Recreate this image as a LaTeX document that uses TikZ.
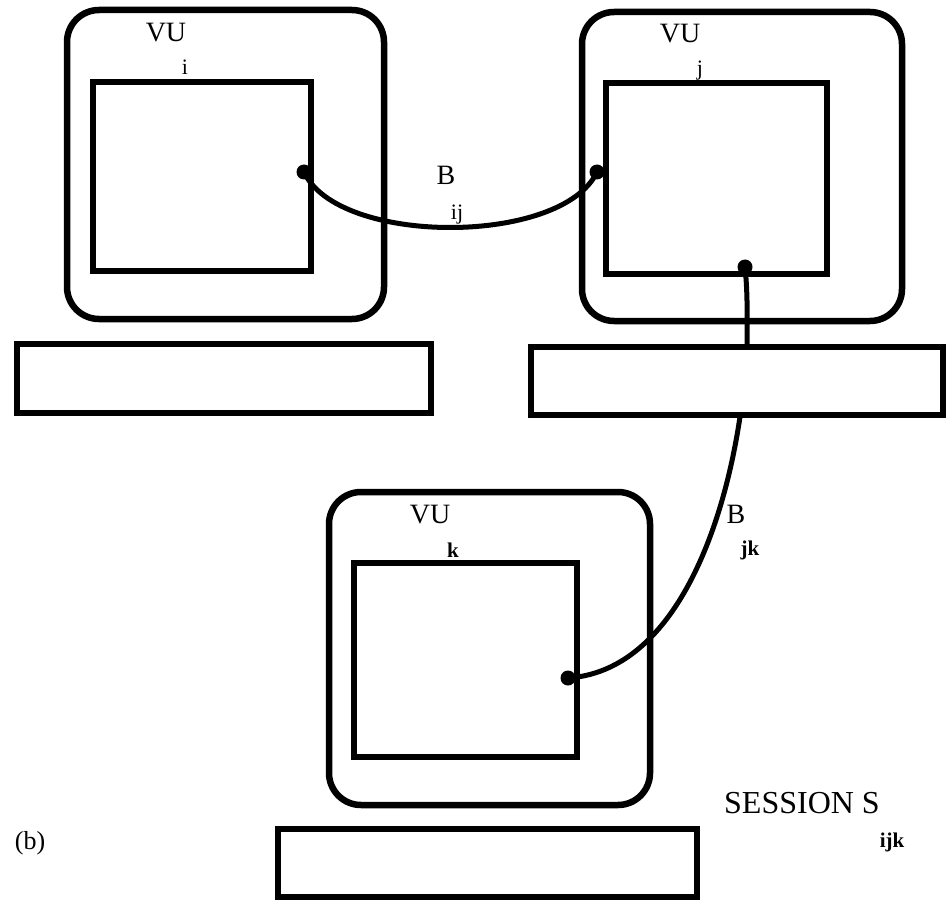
\documentclass[tikz,border=0pt]{standalone}
\usepackage{fontspec}
\setmainfont{Liberation Serif}
\begin{document}
\begin{tikzpicture}[x=1pt,y=-1pt,
  outerbox/.style={draw,line width=6.5pt,rounded corners=32pt,inner sep=0pt,outer sep=0pt},
  screenbox/.style={draw,line width=6pt,inner sep=0pt,outer sep=0pt},
  keybox/.style={draw,fill=white,line width=6pt,inner sep=0pt,outer sep=0pt},
  dotn/.style={circle,fill=black,minimum size=15pt,inner sep=0pt},
  conn/.style={line width=5pt,line cap=round},
  big/.style={inner sep=0pt,anchor=base,font=\fontsize{28}{30}\selectfont},
  sub/.style={inner sep=0pt,anchor=base,font=\fontsize{22}{24}\selectfont},
  subb/.style={inner sep=0pt,anchor=base,font=\fontsize{21}{23}\selectfont\bfseries}]
\useasboundingbox (0,0) rectangle (947,901);
% monitor i
\node[outerbox,minimum width=317pt,minimum height=309pt] (mi) at (225.5,164.5) {};
\node[screenbox,minimum width=218pt,minimum height=189pt] (si) at (202,176.5) {};
% monitor j
\node[outerbox,minimum width=320pt,minimum height=309pt] (mj) at (742,166.5) {};
\node[screenbox,minimum width=221pt,minimum height=191pt] (sj) at (716.5,178.5) {};
% monitor k
\node[outerbox,minimum width=321pt,minimum height=313pt] (mk) at (489.5,648.5) {};
\node[screenbox,minimum width=223pt,minimum height=194pt] (sk) at (465.5,660) {};
% labels
\node[big] (vui) at (166,42) {VU};
\node[sub] (li) at (185,75) {i};
\node[big] (vuj) at (680,43) {VU};
\node[sub] (lj) at (700,76) {j};
\node[big] (vuk) at (430,523) {VU};
\node[subb] (lk) at (453,557) {k};
\node[big] (bij) at (446,185) {B};
\node[sub] (lij) at (457,220) {ij};
\node[big] (bjk) at (736,523) {B};
\node[subb] (ljk) at (750,555) {jk};
\node[inner sep=0pt,anchor=base,font=\fontsize{32}{34}\selectfont] (sess) at (802,813) {SESSION S};
\node[subb] (lijk) at (892,847) {ijk};
\node[inner sep=0pt,anchor=base,font=\fontsize{26}{28}\selectfont] (lb) at (30,849) {(b)};
% dots
\node[dotn] (di) at (304,172) {};
\node[dotn] (dj) at (597,172) {};
\node[dotn] (djb) at (745,267) {};
\node[dotn] (dk) at (568,678) {};
% connectors
\draw[conn] (di.center) .. controls (338,246) and (562,246) .. (dj.center);
\coordinate (mid) at (747,345);
\draw[conn] (djb.center) .. controls (748,295) and (747,325) .. (mid)
  .. controls (741,480) and (690,670) .. (dk.center);
% keyboards
\node[keybox,minimum width=414pt,minimum height=69pt] (ki) at (224,378.5) {};
\node[keybox,minimum width=412pt,minimum height=68pt] (kj) at (737,381) {};
\node[keybox,minimum width=419pt,minimum height=68pt] (kk) at (487.5,863) {};
\end{tikzpicture}
\end{document}
